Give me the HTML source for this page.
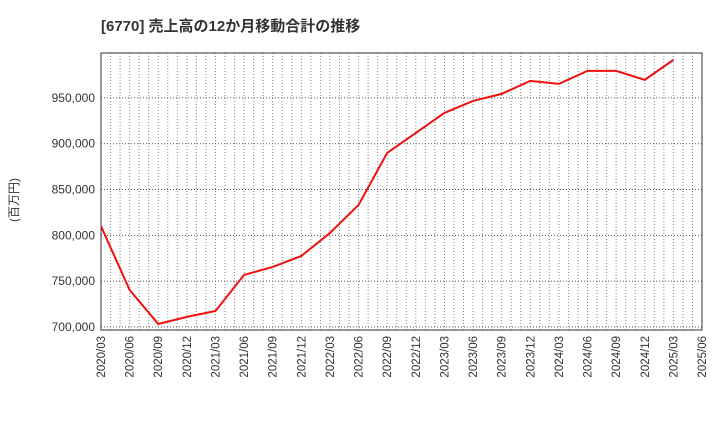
<!DOCTYPE html>
<html><head><meta charset="utf-8"><style>
body{margin:0;background:#fff;font-family:"Liberation Sans","Noto Sans CJK JP",sans-serif}
svg text{font-family:"Liberation Sans","Noto Sans CJK JP",sans-serif}
</style></head><body>
<svg id="c" width="720" height="440" xmlns="http://www.w3.org/2000/svg">
<text x="101" y="31" font-size="15" font-weight="bold" fill="#333">[6770]  売上高の12か月移動合計の推移</text>
<text transform="translate(18,200) rotate(-90)" font-size="12" fill="#333" text-anchor="middle">(百万円)</text>
<g id="grid"></g><g id="axes"></g><g id="series"></g>
</svg>
<script>
const categories=["2020/03","2020/06","2020/09","2020/12","2021/03","2021/06","2021/09","2021/12","2022/03","2022/06","2022/09","2022/12","2023/03","2023/06","2023/09","2023/12","2024/03","2024/06","2024/09","2024/12","2025/03","2025/06"];
const salesValues=[810000,740400,703300,711000,717500,756800,765500,777500,802600,833200,890000,911800,933600,946700,954400,968600,965300,979500,979500,969700,991500];
const yTicks=[700000,750000,800000,850000,900000,950000];
const yTickLabels=["700,000","750,000","800,000","850,000","900,000","950,000"];
const L=101,R=702,T=53,B=330,yMin=696700,yMax=999000;
const ns="http://www.w3.org/2000/svg";
const xS=i=>L+i*(R-L)/(categories.length-1);
const yS=v=>B-(v-yMin)/(yMax-yMin)*(B-T);
function mk(t,a,p){const e=document.createElementNS(ns,t);for(const k in a)e.setAttribute(k,a[k]);p.appendChild(e);return e;}
const g=document.getElementById('grid'),ax=document.getElementById('axes'),s=document.getElementById('series');
for(let m=1;m<(categories.length-1)*3;m++){
 const x=xS(m/3);
 const l=mk('line',{x1:x,x2:x,y1:T,y2:B,stroke:'#888','stroke-dasharray':'1,2','stroke-width':1},g);
 
 
}
categories.forEach((c,i)=>{
 const x=xS(i);
 const t=mk('text',{transform:`translate(${x+4},${B+6}) rotate(-90)`,'font-size':11.5,fill:'#333','text-anchor':'end'},ax);
 t.textContent=c;
 
 
});
yTicks.forEach((v,i)=>{
 const y=yS(v);
 const l=mk('line',{x1:L,x2:R,y1:y,y2:y,stroke:'#555','stroke-dasharray':'1,2','stroke-width':1},g);
 
 
 const t=mk('text',{x:L-6,y:y+4,'font-size':12,fill:'#333','text-anchor':'end'},ax);
 t.textContent=yTickLabels[i];
 
 
});
const fr=mk('rect',{x:L,y:T,width:R-L,height:B-T,fill:'none',stroke:'#333','stroke-width':1},ax);


const pl=mk('polyline',{points:salesValues.map((v,i)=>xS(i)+','+yS(v)).join(' '),fill:'none',stroke:'#ee1111','stroke-width':2},s);


</script>
</body></html>
